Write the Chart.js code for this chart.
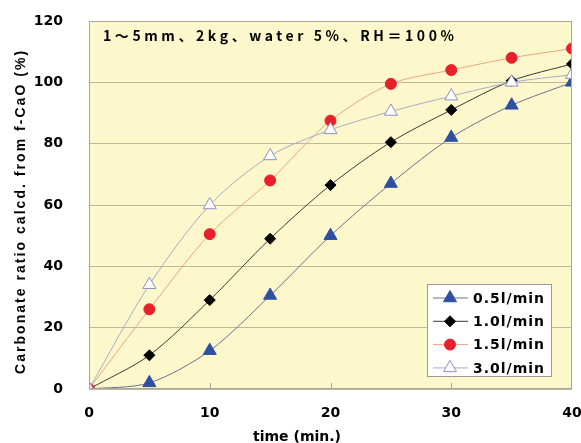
<!DOCTYPE html>
<html>
<head>
<meta charset="utf-8">
<script src="https://cdn.jsdelivr.net/npm/chart.js@4.4.0/dist/chart.umd.min.js"></script>
<style>
html, body { margin: 0; padding: 0; background: #fff; }
canvas { display: block; }
</style>
</head>
<body>
<canvas id="chart" width="581" height="443"></canvas>
<script>
const times = [0, 5, 10, 15, 20, 25, 30, 35, 40];
const flow05 = [0, 2, 12.5, 30.5, 50, 67, 82, 92.5, 100];
const flow10 = [0, 11, 29, 49, 66.5, 80.5, 91, 100.5, 106];
const flow15 = [0, 26, 50.5, 68, 87.5, 99.5, 104, 108, 111];
const flow30 = [0, 34, 60, 76, 84.5, 90.5, 95.5, 100, 102.5];
const seriesLabels = ['0.5l/min', '1.0l/min', '1.5l/min', '3.0l/min'];
const xTitle = 'time (min.)';
const yTitle = 'Carbonate ratio calcd. from f-CaO (%)';
const note = '1～5mm、2kg、water 5%、RH＝100%';

const FONT = '"DejaVu Sans", sans-serif';

function toPoints(values) {
    return values.map((v, i) => ({ x: times[i], y: v }));
}

// 文字間隔を調整して指定幅に収める
function spacedText(ctx, text, x, y, width) {
    const w = ctx.measureText(text).width;
    const spacing = Math.max(0, (width - w) / (text.length - 1));
    ctx.letterSpacing = spacing.toFixed(2) + 'px';
    ctx.fillText(text, x, y);
}

const styles = [
    { line: '#6e6e90', fill: '#2f4fa0', border: '#2f4fa0', style: 'triangle', radius: 7.5, order: 3 },
    { line: '#3a3a3a', fill: '#000000', border: '#000000', style: 'rectRot', radius: 5.5, order: 2 },
    { line: '#f2a184', fill: '#e8202a', border: '#e8202a', style: 'circle', radius: 5.5, order: 1 },
    { line: '#a8acca', fill: '#ffffff', border: '#8c90c4', style: 'triangle', radius: 7.5, order: 0 }
];
const seriesValues = [flow05, flow10, flow15, flow30];

const datasets = seriesValues.map((vals, i) => ({
    label: seriesLabels[i],
    data: toPoints(vals),
    borderColor: styles[i].line,
    borderWidth: 1,
    backgroundColor: styles[i].fill,
    pointBackgroundColor: styles[i].fill,
    pointBorderColor: styles[i].border,
    pointBorderWidth: 1,
    pointStyle: styles[i].style,
    pointRadius: styles[i].radius,
    pointHoverRadius: styles[i].radius,
    tension: 0.3,
    order: styles[i].order
}));

// 背景と内向きの目盛り
const plotBg = {
    id: 'plotBg',
    beforeDraw(chart) {
        const { ctx, chartArea: a } = chart;
        ctx.save();
        ctx.fillStyle = '#fcf8cb';
        ctx.fillRect(a.left, a.top, a.right - a.left, a.bottom - a.top);
        ctx.restore();
    },
    afterDatasetsDraw(chart) {
        const { ctx, chartArea: a, scales } = chart;
        ctx.save();
        ctx.strokeStyle = '#a8a698';
        ctx.lineWidth = 1;
        ctx.strokeRect(a.left + 0.5, a.top + 0.5, a.right - a.left - 1, a.bottom - a.top - 1);
        [10, 20, 30].forEach(t => {
            const x = Math.round(scales.x.getPixelForValue(t)) + 0.5;
            ctx.beginPath();
            ctx.moveTo(x, a.bottom);
            ctx.lineTo(x, a.bottom - 6);
            ctx.stroke();
        });
        ctx.restore();
    }
};

// 軸タイトル・注記・凡例
const textsAndLegend = {
    id: 'textsAndLegend',
    afterDraw(chart) {
        const { ctx, chartArea: a } = chart;
        ctx.save();
        ctx.fillStyle = '#000';
        ctx.textBaseline = 'middle';
        ctx.textAlign = 'left';
        ctx.font = 'bold 14px "Noto Sans CJK JP", ' + FONT;
        spacedText(ctx, note, a.left + 14, a.top + 15, 351);

        ctx.textAlign = 'center';
        ctx.font = 'bold 14px ' + FONT;
        ctx.letterSpacing = '0px';
        ctx.fillText(xTitle, 297, 437);

        ctx.translate(21, 213);
        ctx.rotate(-Math.PI / 2);
        ctx.font = 'bold 14px "Liberation Sans", Arial, sans-serif';
        ctx.textAlign = 'left';
        spacedText(ctx, yTitle, -161, 0, 323);
        ctx.restore();

        const boxW = 125, boxH = 93;
        const bx = a.right - 20 - boxW, by = a.bottom - 12 - boxH;
        ctx.save();
        ctx.fillStyle = '#ffffff';
        ctx.fillRect(bx, by, boxW, boxH);
        ctx.strokeStyle = '#9a9a9a';
        ctx.lineWidth = 1;
        ctx.strokeRect(bx + 0.5, by + 0.5, boxW - 1, boxH - 1);
        chart.data.datasets.forEach((ds, i) => {
            const cy = by + 14 + i * 23.3;
            ctx.strokeStyle = ds.borderColor;
            ctx.lineWidth = 1;
            ctx.beginPath();
            ctx.moveTo(bx + 6, cy);
            ctx.lineTo(bx + 41, cy);
            ctx.stroke();
            ctx.fillStyle = ds.pointBackgroundColor;
            ctx.strokeStyle = ds.pointBorderColor;
            Chart.helpers.drawPoint(ctx, {
                pointStyle: ds.pointStyle,
                radius: ds.pointRadius,
                rotation: 0,
                borderWidth: 1
            }, bx + 23, cy);
            ctx.fillStyle = '#000';
            ctx.font = 'bold 14px ' + FONT;
            ctx.letterSpacing = '1px';
            ctx.textBaseline = 'middle';
            ctx.textAlign = 'left';
            ctx.fillText(ds.label, bx + 46, cy + 1);
        });
        ctx.restore();
    }
};

new Chart(document.getElementById('chart').getContext('2d'), {
    type: 'line',
    data: { datasets: datasets },
    plugins: [plotBg, textsAndLegend],
    options: {
        responsive: false,
        animation: false,
        layout: { padding: { top: 21, right: 9, left: 0, bottom: 0 } },
        plugins: {
            legend: { display: false },
            tooltip: { enabled: false }
        },
        scales: {
            x: {
                type: 'linear',
                min: 0,
                max: 40,
                ticks: { stepSize: 10, padding: 16, color: '#000', font: { family: FONT, size: 14, weight: 'bold' } },
                grid: { display: false, drawTicks: false },
                border: { display: false },
                afterFit(scale) {
                    scale.height = 54;
                    scale.paddingLeft = 0;
                    scale.paddingRight = 0;
                }
            },
            y: {
                min: 0,
                max: 120,
                ticks: { stepSize: 20, padding: 26, color: '#000', font: { family: FONT, size: 14, weight: 'bold' } },
                grid: { color: '#bdb9a0', lineWidth: 1, drawTicks: false },
                border: { display: false },
                afterFit(scale) {
                    scale.width = 89;
                    scale.paddingTop = 0;
                    scale.paddingBottom = 0;
                }
            }
        }
    }
});
</script>
</body>
</html>
